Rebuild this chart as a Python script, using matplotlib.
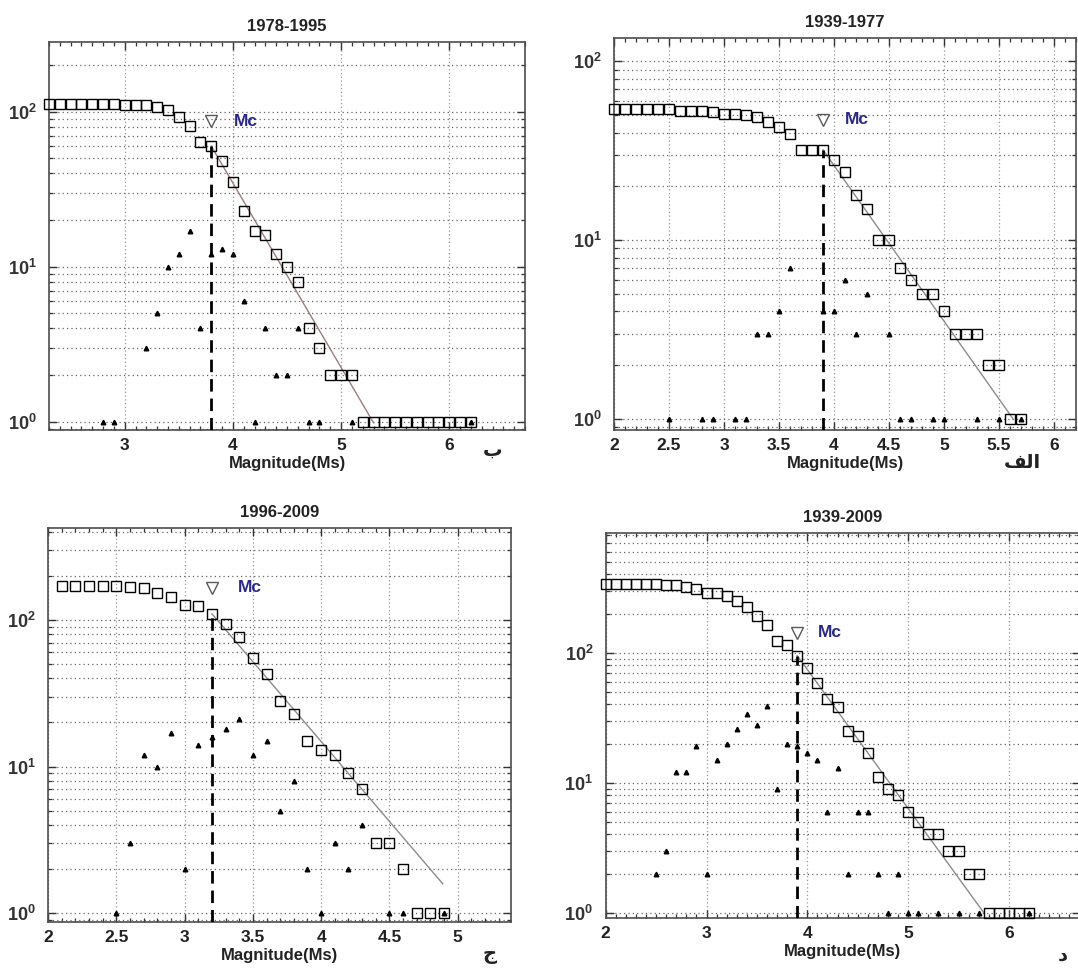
import numpy as np
import matplotlib
matplotlib.use('Agg')
import matplotlib.pyplot as plt
from matplotlib.ticker import LogLocator, FixedLocator, MultipleLocator, FuncFormatter, NullFormatter

plt.rcParams['font.family'] = ['Liberation Sans', 'DejaVu Sans']
plt.rcParams['mathtext.fontset'] = 'custom'
plt.rcParams['mathtext.rm'] = 'Liberation Sans'
plt.rcParams['mathtext.bf'] = 'Liberation Sans:bold'

# ---- 1978-1995 (panel b) ----
MAG_A = [2.3, 2.4, 2.5, 2.6, 2.7, 2.8, 2.9, 3.0, 3.1, 3.2, 3.3, 3.4, 3.5, 3.6,
         3.7, 3.8, 3.9, 4.0, 4.1, 4.2, 4.3, 4.4, 4.5, 4.6, 4.7, 4.8, 4.9, 5.0,
         5.1, 5.2, 5.3, 5.4, 5.5, 5.6, 5.7, 5.8, 5.9, 6.0, 6.1, 6.2]
CUM_A = [113, 113, 113, 113, 113, 113, 112, 111, 111, 111, 108, 103, 93, 81,
         64, 60, 48, 35, 23, 17, 16, 12, 10, 8, 4, 3, 2, 2,
         2, 1, 1, 1, 1, 1, 1, 1, 1, 1, 1, 1]
INC_MAG_A = [2.8, 2.9, 3.2, 3.3, 3.4, 3.5, 3.6, 3.7, 3.8, 3.9, 4.0, 4.1, 4.2,
             4.3, 4.4, 4.5, 4.6, 4.7, 4.8, 5.1, 6.2]
INC_A = [1, 1, 3, 5, 10, 12, 17, 4, 12, 13, 12, 6, 1, 4, 2, 2, 4, 1, 1, 1, 1]
MC_A, MC_MARK_A = 3.8, 87
FIT_A = (6.30, 1.19, 3.8, 5.3)   # a, b, M from, M to

# ---- 1939-1977 (panel alef) ----
MAG_B = [2.0, 2.1, 2.2, 2.3, 2.4, 2.5, 2.6, 2.7, 2.8, 2.9, 3.0, 3.1, 3.2, 3.3,
         3.4, 3.5, 3.6, 3.7, 3.8, 3.9, 4.0, 4.1, 4.2, 4.3, 4.4, 4.5, 4.6, 4.7,
         4.8, 4.9, 5.0, 5.1, 5.2, 5.3, 5.4, 5.5, 5.6, 5.7]
CUM_B = [54, 54, 54, 54, 54, 54, 53, 53, 53, 52, 51, 51, 50, 49,
         46, 43, 39, 32, 32, 32, 28, 24, 18, 15, 10, 10, 7, 6,
         5, 5, 4, 3, 3, 3, 2, 2, 1, 1]
INC_MAG_B = [2.5, 2.8, 2.9, 3.1, 3.2, 3.3, 3.4, 3.5, 3.6, 3.9, 4.0, 4.1, 4.2,
             4.3, 4.5, 4.6, 4.7, 4.9, 5.0, 5.3, 5.5, 5.7]
INC_B = [1, 1, 1, 1, 1, 3, 3, 4, 7, 4, 4, 6, 3, 5, 3, 1, 1, 1, 1, 1, 1, 1]
MC_B, MC_MARK_B = 3.9, 47
FIT_B = (4.898, 0.87, 3.9, 5.63)

# ---- 1996-2009 (panel jim) ----
MAG_C = [2.1, 2.2, 2.3, 2.4, 2.5, 2.6, 2.7, 2.8, 2.9, 3.0, 3.1, 3.2, 3.3, 3.4,
         3.5, 3.6, 3.7, 3.8, 3.9, 4.0, 4.1, 4.2, 4.3, 4.4, 4.5, 4.6, 4.7, 4.8, 4.9]
CUM_C = [169, 169, 169, 169, 169, 168, 165, 153, 143, 126, 124, 110, 94, 76,
         55, 43, 28, 23, 15, 13, 12, 9, 7, 3, 3, 2, 1, 1, 1]
INC_MAG_C = [2.5, 2.6, 2.7, 2.8, 2.9, 3.0, 3.1, 3.2, 3.3, 3.4, 3.5, 3.6, 3.7,
             3.8, 3.9, 4.0, 4.1, 4.2, 4.3, 4.5, 4.6, 4.9]
INC_C = [1, 3, 12, 10, 17, 2, 14, 16, 18, 21, 12, 15, 5, 8, 2, 1, 3, 2, 4, 1, 1, 1]
MC_C, MC_MARK_C = 3.2, 166
FIT_C = (5.527, 1.089, 3.2, 4.89)

# ---- 1939-2009 (panel dal) ----
MAG_D = [2.0, 2.1, 2.2, 2.3, 2.4, 2.5, 2.6, 2.7, 2.8, 2.9, 3.0, 3.1, 3.2, 3.3,
         3.4, 3.5, 3.6, 3.7, 3.8, 3.9, 4.0, 4.1, 4.2, 4.3, 4.4, 4.5, 4.6, 4.7,
         4.8, 4.9, 5.0, 5.1, 5.2, 5.3, 5.4, 5.5, 5.6, 5.7, 5.8, 5.9, 6.0, 6.1, 6.2]
CUM_D = [336, 336, 336, 336, 336, 336, 334, 331, 319, 307, 288, 286, 271, 251,
         225, 191, 163, 124, 115, 95, 76, 59, 44, 38, 25, 23, 17, 11,
         9, 8, 6, 5, 4, 4, 3, 3, 2, 2, 1, 1, 1, 1, 1]
INC_MAG_D = [2.5, 2.6, 2.7, 2.8, 2.9, 3.0, 3.1, 3.2, 3.3, 3.4, 3.5, 3.6, 3.7,
             3.8, 3.9, 4.0, 4.1, 4.2, 4.3, 4.4, 4.5, 4.6, 4.7, 4.8, 4.9, 5.0,
             5.1, 5.3, 5.5, 5.7, 6.2]
INC_D = [2, 3, 12, 12, 19, 2, 15, 20, 26, 34, 28, 39, 9, 20, 19, 17, 15, 6, 13,
         2, 6, 6, 2, 1, 2, 1, 1, 1, 1, 1, 1]
MC_D, MC_MARK_D = 3.9, 143
FIT_D = (6.147, 1.069, 3.9, 5.75)

W, H = 1078, 969


def px_rect(left, top, right, bottom):
    return [left / W, 1 - bottom / H, (right - left) / W, (bottom - top) / H]


def draw_panel(ax, mags, cum, inc_m, inc, mc, mc_mark, fit, title,
               xlim, ylim, xmajor, fit_color, mc_text_dx):
    ax.set_yscale('log')
    ax.set_xlim(*xlim)
    ax.set_ylim(*ylim)

    ax.xaxis.set_major_locator(MultipleLocator(xmajor))
    ax.xaxis.set_minor_locator(MultipleLocator(0.1))
    ax.yaxis.set_major_locator(FixedLocator([1, 10, 100]))
    ax.yaxis.set_minor_locator(LogLocator(base=10, subs=np.arange(2, 10)))
    ax.yaxis.set_minor_formatter(NullFormatter())
    ax.yaxis.set_major_formatter(FuncFormatter(
        lambda v, p: r'$\mathbf{10^{%d}}$' % round(np.log10(v))))
    ax.xaxis.set_major_formatter(FuncFormatter(lambda v, p: '%g' % v))

    ax.grid(axis='y', which='both', color='0.4', linestyle=(0, (1, 2.5)),
            linewidth=0.9)
    ax.grid(axis='x', which='major', color='0.6', linestyle=(0, (1, 2)),
            linewidth=0.9)
    ax.set_axisbelow(True)

    ax.tick_params(which='both', direction='in', top=True, right=True,
                   colors='0.2')
    ax.tick_params(which='major', length=6, width=1.0)
    ax.tick_params(which='minor', length=3, width=0.9)
    ax.tick_params(axis='x', which='major', labelsize=12.5, pad=6)
    ax.tick_params(axis='y', which='major', labelsize=13, pad=9)
    for lab in ax.get_xticklabels():
        lab.set_fontweight('bold')
        lab.set_color('#222222')
    for sp in ax.spines.values():
        sp.set_linewidth(1.2)
        sp.set_color('0.3')

    # fitted G-R line
    a, b, m0, m1 = fit
    fm = np.array([m0, m1])
    ax.plot(fm, 10 ** (a - b * fm), color=fit_color, linewidth=1.0, zorder=3)

    # Mc dashed marker
    mc_n = cum[mags.index(mc)]
    ax.plot([mc, mc], [ylim[0], mc_n], color='black', linewidth=2.0,
            linestyle=(0, (4.5, 2.5)), zorder=4)

    ax.plot(inc_m, inc, linestyle='none', marker='^', markersize=3.3,
            color='black', zorder=5, clip_on=False)
    ax.plot(mags, cum, linestyle='none', marker='s', markersize=7.2,
            markerfacecolor='none', markeredgecolor='black',
            markeredgewidth=1.0, zorder=6, clip_on=False)

    ax.plot([mc], [mc_mark], linestyle='none', marker='v', markersize=8,
            markerfacecolor='none', markeredgecolor='0.35',
            markeredgewidth=1.0, zorder=6)
    ax.text(mc + mc_text_dx, mc_mark, 'Mc', color='#2a2a86',
            fontsize=12.5, fontweight='bold', va='center', ha='left', zorder=7)

    ax.set_title(title, fontsize=12, fontweight='bold', color='#222222',
                 pad=8)
    ax.set_xlabel('Magnitude(Ms)', fontsize=12, fontweight='bold',
                  color='#222222', labelpad=2)


fig = plt.figure(figsize=(W / 100, H / 100), dpi=100)

ax_a = fig.add_axes(px_rect(49, 42, 525, 430))
draw_panel(ax_a, MAG_A, CUM_A, INC_MAG_A, INC_A, MC_A, MC_MARK_A, FIT_A,
           '1978-1995', (2.3, 6.7), (0.884, 282), 1, '#9c7d7d', 0.21)

ax_b = fig.add_axes(px_rect(614, 38, 1076, 430))
draw_panel(ax_b, MAG_B, CUM_B, INC_MAG_B, INC_B, MC_B, MC_MARK_B, FIT_B,
           '1939-1977', (2.0, 6.2), (0.87, 135), 0.5, '#8c8c8c', 0.2)

ax_c = fig.add_axes(px_rect(48, 528, 511, 922))
draw_panel(ax_c, MAG_C, CUM_C, INC_MAG_C, INC_C, MC_C, MC_MARK_C, FIT_C,
           '1996-2009', (2.0, 5.39), (0.873, 423), 0.5, '#8c8c8c', 0.19)

ax_d = fig.add_axes(px_rect(605.7, 533, 1079.5, 918))
draw_panel(ax_d, MAG_D, CUM_D, INC_MAG_D, INC_D, MC_D, MC_MARK_D, FIT_D,
           '1939-2009', (2.0, 6.7), (0.91, 834), 1, '#8c8c8c', 0.2)

# panel letters (Persian)
letter_kw = dict(fontsize=14, fontweight='bold', color='#222222',
                 ha='center', va='center', family=['DejaVu Sans'])
fig.text(493 / W, 1 - 450 / H, '\u0628', **letter_kw)
fig.text(1022 / W, 1 - 463 / H, '\uFED2\uFEDF\uFE8D', **letter_kw)
fig.text(490 / W, 1 - 955 / H, '\u062C', **letter_kw)
fig.text(1063 / W, 1 - 955 / H, '\u062F', **letter_kw)

fig.savefig('out.png', dpi=100)
